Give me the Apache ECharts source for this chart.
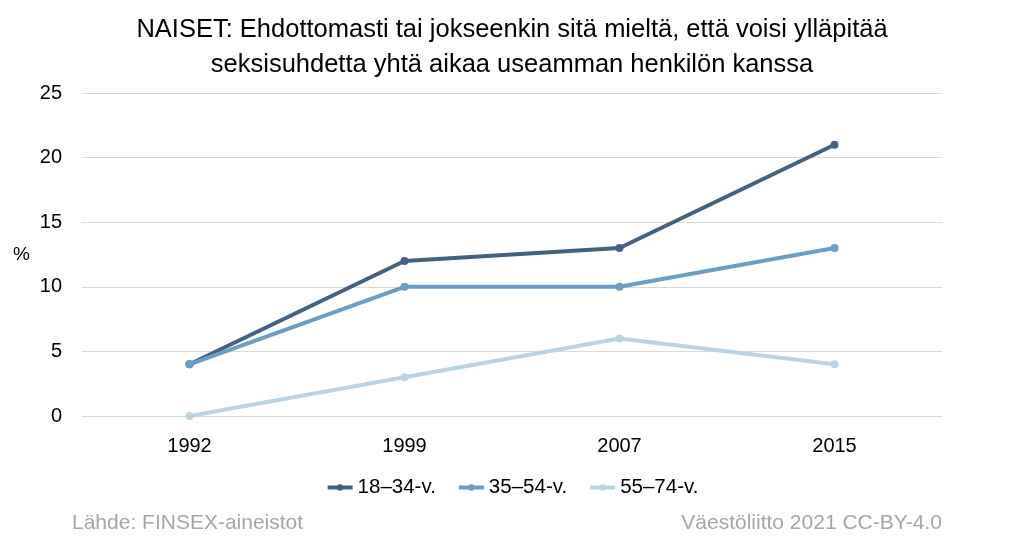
<!DOCTYPE html>
<html><head><meta charset="utf-8">
<script src="https://cdn.jsdelivr.net/npm/echarts@6/dist/echarts.min.js"></script>
<style>html,body{margin:0;padding:0;background:#fff;}#c{width:1024px;height:548px;}</style>
</head><body><div id="c"></div>
<script>
const categories = ['1992', '1999', '2007', '2015'];
const seriesNames = ['18–34-v.', '35–54-v.', '55–74-v.'];
const s1834 = [4, 12, 13, 21];
const s3554 = [4, 10, 10, 13];
const s5574 = [0, 3, 6, 4];
const colors = ['#44627f', '#6a9ec5', '#b9d3e2'];
const FONT = '"Liberation Sans", sans-serif';

const chart = echarts.init(document.getElementById('c'));
const mk = (name, data, color) => ({
  name, type: 'line', data,
  lineStyle: { width: 4, color }, itemStyle: { color },
  symbol: 'circle', symbolSize: 8, showSymbol: true
});
chart.setOption({
  animation: false,
  textStyle: { fontFamily: FONT },
  title: {
    text: 'NAISET: Ehdottomasti tai jokseenkin sitä mieltä, että voisi ylläpitää\nseksisuhdetta yhtä aikaa useamman henkilön kanssa',
    left: 'center', top: 7,
    textStyle: { fontFamily: FONT, fontSize: 25.5, fontWeight: 'normal', color: '#000', lineHeight: 35 }
  },
  graphic: [
    { type: 'text', left: 13, top: 245, style: { text: '%', font: '19px ' + FONT, fill: '#000' } },
    { type: 'text', left: 72, top: 513, style: { text: 'Lähde: FINSEX-aineistot', font: '21px ' + FONT, fill: '#a6a6a6' } },
    { type: 'text', right: 82, top: 513, style: { text: 'Väestöliitto 2021 CC-BY-4.0', font: '21px ' + FONT, fill: '#a6a6a6' } }
  ],
  legend: {
    data: seriesNames, bottom: 45, left: 'center',
    itemWidth: 25, itemHeight: 8, itemGap: 21,
    lineStyle: { width: 4 },
    textStyle: { fontFamily: FONT, fontSize: 20.5, color: '#000' }
  },
  grid: { left: 82, right: 82, top: 93, bottom: 132 },
  xAxis: {
    type: 'category', data: categories, boundaryGap: true,
    axisLine: { lineStyle: { color: '#d9d9d9', width: 1 } },
    axisTick: { show: false },
    axisLabel: { fontFamily: FONT, fontSize: 20, color: '#000', margin: 20 }
  },
  yAxis: {
    type: 'value', min: 0, max: 25, interval: 5,
    axisLine: { show: false }, axisTick: { show: false },
    splitLine: { lineStyle: { color: '#d9d9d9', width: 1 } },
    axisLabel: { fontFamily: FONT, fontSize: 20, color: '#000', margin: 20 }
  },
  series: [mk(seriesNames[0], s1834, colors[0]), mk(seriesNames[1], s3554, colors[1]), mk(seriesNames[2], s5574, colors[2])]
});
</script></body></html>
